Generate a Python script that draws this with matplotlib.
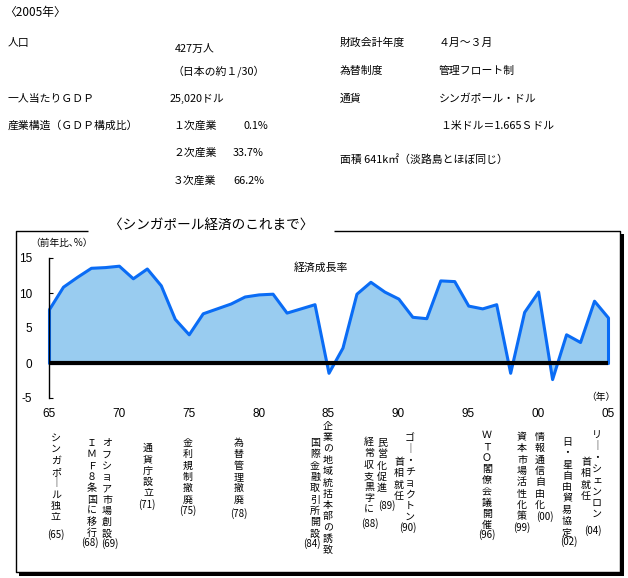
import matplotlib
matplotlib.use("Agg")
import matplotlib.pyplot as plt
from matplotlib.lines import Line2D

plt.rcParams["font.family"] = ["Noto Sans CJK JP", "DejaVu Sans"]
plt.rcParams["axes.unicode_minus"] = False

# データ
years = list(range(1965, 2006))
growth = [7.7, 10.9, 12.3, 13.6, 13.7, 13.9, 12.1, 13.5, 11.1, 6.3,
          4.1, 7.1, 7.8, 8.5, 9.5, 9.8, 9.9, 7.2, 7.8, 8.4,
          -1.4, 2.2, 9.9, 11.6, 10.2, 9.2, 6.6, 6.4, 11.8, 11.7,
          8.2, 7.8, 8.4, -1.4, 7.3, 10.2, -2.3, 4.1, 3.0, 8.9, 6.5]
xtick_years = [1965, 1970, 1975, 1980, 1985, 1990, 1995, 2000, 2005]
xtick_labels = ["65", "70", "75", "80", "85", "90", "95", "00", "05"]
yticks = [-5, 0, 5, 10, 15]

event_texts = ["シンガポール独立", "ＩＭＦ８条国に移行", "オフショア市場創設", "通貨庁設立",
               "金利規制撤廃", "為替管理撤廃", "国際金融取引所開設", "企業の地域統括本部の誘致",
               "経常収支黒字に", "民営化促進", "ゴー・チョクトン", "首相就任",
               "ＷＴＯ閣僚会議開催", "資本市場活性化策", "情報通信自由化", "日・星自由貿易協定",
               "リー・シェンロン", "首相就任"]
event_years = ["(65)", "(68)", "(69)", "(71)", "(75)", "(78)", "(84)", "",
               "(88)", "(89)", "(90)", "",
               "(96)", "(99)", "(00)", "(02)", "(04)", ""]

# レイアウト (ピクセル)
event_x = [56, 92, 107, 148, 188, 239, 315, 328, 369, 382, 410, 399, 487, 522, 540, 567, 597, 586]
event_y0 = [438, 443, 443, 448, 443, 443, 443, 426, 442, 443, 438, 462, 435, 437, 437, 442, 435, 462]
label_x = [56, 90, 110, 147, 188, 239, 312, 0, 370, 387, 408, 0, 487, 522, 545, 569, 593, 0]
label_y = [535, 543, 544, 505, 511, 514, 544, 0, 524, 506, 528, 0, 535, 528, 517, 542, 531, 0]

W, H = 628, 578
fig = plt.figure(figsize=(W / 100, H / 100), dpi=100)


def px(x, y):
    return x / W, 1 - y / H


def put(x, y, s, size=7.8, ha="left", **kw):
    fig.text(*px(x, y), s, fontsize=size, ha=ha, va="center", **kw)


def line(xs, ys, lw):
    fx = [x / W for x in xs]
    fy = [1 - y / H for y in ys]
    fig.add_artist(Line2D(fx, fy, transform=fig.transFigure, color="black", lw=lw,
                          solid_capstyle="butt"))


# 上部の概要
put(4, 12, "〈2005年〉", size=8.5)
put(8, 43, "人口")
put(175, 49, "427万人")
put(172, 71, "（日本の約１/30）")
put(8, 99, "一人当たりＧＤＰ")
put(170, 99, "25,020ドル")
put(8, 126, "産業構造（ＧＤＰ構成比）")
put(173, 126, "１次産業")
put(243, 126, "0.1%")
put(173, 153, "２次産業")
put(233, 153, "33.7%")
put(173, 181, "３次産業")
put(233, 181, "66.2%")

put(340, 43, "財政会計年度")
put(439, 43, "４月～３月")
put(340, 71, "為替制度")
put(439, 71, "管理フロート制")
put(340, 99, "通貨")
put(439, 99, "シンガポール・ドル")
put(440, 126, "１米ドル＝1.665Ｓドル")
put(340, 160, "面積 641k㎡（淡路島とほぼ同じ）")

# 枠
line([88, 16, 16, 620], [231, 231, 572, 572], 1.0)
line([334, 620, 620], [231, 231, 572], 1.0)
line([622, 622], [234, 575], 2.9)
line([19, 624], [573.5, 573.5], 2.9)
put(211, 225, "〈シンガポール経済のこれまで〉", size=9.8, ha="center")

# グラフ
ax = fig.add_axes([49 / W, 1 - 398 / H, (608 - 49) / W, (398 - 258) / H])
ax.fill_between(years, growth, 0, facecolor="#99ccf0", edgecolor="#0a6cf5", lw=2.2,
                clip_on=False, zorder=2)
ax.axhline(0, color="black", lw=3, zorder=3)
ax.set_xlim(1965, 2005)
ax.set_ylim(-5, 15)
for s in ["top", "right", "bottom"]:
    ax.spines[s].set_visible(False)
ax.spines["left"].set_linewidth(1.0)
ax.set_yticks(yticks)
ax.set_xticks(xtick_years)
ax.set_xticklabels(xtick_labels)
ax.tick_params(axis="y", direction="in", length=3, pad=12, labelsize=8.5)
ax.tick_params(axis="x", length=0, pad=7, labelsize=8.5)
for lab in ax.get_xticklabels() + ax.get_yticklabels():
    lab.set_family(["Liberation Sans", "DejaVu Sans"])
ax.patch.set_alpha(0)

put(30, 243, "（前年比､%）", size=7)
put(321, 268, "経済成長率", size=7.8, ha="center")
put(601, 397, "（年）", size=7, ha="center")

# 縦書きの出来事
step = 11.3
for i, txt in enumerate(event_texts):
    for j, ch in enumerate(txt.replace("ー", "｜")):
        put(event_x[i], event_y0[i] + j * step, ch, size=7.2, ha="center")
    if event_years[i]:
        put(label_x[i], label_y[i], event_years[i], size=7, ha="center")

fig.savefig("out.png", dpi=100)
